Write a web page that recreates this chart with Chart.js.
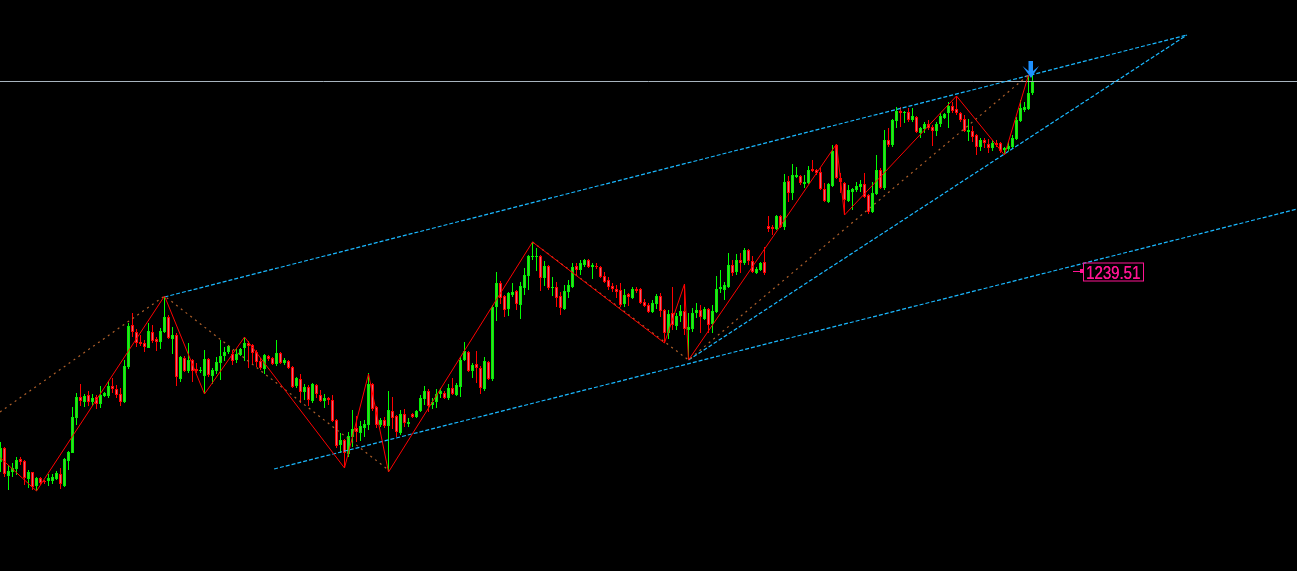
<!DOCTYPE html>
<html>
<head>
<meta charset="utf-8">
<title>XAUUSD swings</title>
<script src="https://cdn.jsdelivr.net/npm/chart.js@4.4.1/dist/chart.umd.min.js"></script>
<style>
  html, body { margin: 0; padding: 0; background: #000; overflow: hidden; }
  #wrap { width: 1297px; height: 571px; }
</style>
</head>
<body>
<div id="wrap"><canvas id="chart-main" width="1297" height="571"></canvas></div>
<script>
/* ── Candles (one per bar, oldest first) ───────────────────────────── */
const OPEN = [
  1049,1063,1035,1039,1042,1052,1050,1032,1039,1025, 1033,1030,1030,1030,1032,1037,1025,1050,1058,1093,
  1114,1109,1116,1109,1114,1107,1115,1115,1125,1122, 1117,1109,1144,1186,1179,1169,1168,1163,1179,1172,
  1169,1179,1194,1172,1176,1132,1153,1140,1151,1142, 1140,1135,1152,1135,1140,1148,1155,1159,1157,1151,
  1156,1163,1168,1166,1159,1150,1142,1155,1153,1147, 1158,1148,1150,1144,1125,1132,1119,1124,1110,1126,
  1116,1110,1113,1111,1091,1066,1071,1057,1074,1083, 1078,1083,1086,1127,1104,1086,1091,1085,1100,1095,
  1078,1097,1087,1097,1094,1100,1112,1120,1106,1109, 1117,1118,1113,1123,1116,1124,1151,1159,1140,1147,
  1143,1122,1149,1132,1204,1228,1215,1202,1216,1220, 1206,1223,1235,1254,1254,1255,1233,1245,1223,1224,
  1215,1202,1219,1224,1245,1241,1246,1251,1244,1245, 1244,1235,1231,1225,1222,1221,1207,1217,1213,1222,
  1222,1209,1206,1199,1207,1215,1201,1178,1198,1185, 1195,1200,1181,1182,1198,1201,1192,1202,1187,1199,
  1222,1221,1224,1246,1239,1251,1248,1261,1250,1238, 1241,1249,1285,1284,1282,1295,1284,1330,1318,1334,
  1335,1327,1328,1342,1341,1339,1322,1309,1325,1366, 1333,1328,1310,1319,1321,1324,1327,1316,1299,1317,
  1341,1323,1371,1366,1390,1400,1398,1399,1391,1394, 1378,1382,1387,1384,1380,1387,1393,1398,1405,1402,
  1398,1392,1379,1380,1376,1364,1371,1367,1363,1368, 1368,1361,1362,1364,1372,1390,1401,1402,1418
];
const HIGH = [
  1069,1064,1046,1048,1054,1054,1051,1041,1039,1034, 1034,1031,1037,1037,1040,1043,1053,1060,1104,1118,
  1127,1117,1120,1117,1116,1125,1119,1130,1133,1126, 1123,1151,1188,1198,1182,1176,1171,1188,1186,1174,
  1183,1215,1196,1184,1178,1155,1155,1168,1152,1148, 1144,1161,1153,1143,1154,1171,1164,1166,1161,1162,
  1163,1174,1170,1167,1161,1153,1157,1156,1154,1171, 1159,1153,1151,1145,1134,1137,1127,1126,1128,1127,
  1121,1117,1114,1116,1092,1078,1072,1079,1101,1095, 1090,1091,1138,1128,1105,1093,1094,1120,1114,1096,
  1101,1102,1093,1098,1101,1116,1125,1122,1113,1122, 1123,1120,1127,1133,1128,1154,1169,1160,1148,1160,
  1145,1154,1150,1206,1239,1230,1216,1219,1228,1221, 1229,1243,1256,1269,1263,1256,1250,1246,1234,1229,
  1219,1226,1231,1248,1248,1251,1252,1252,1248,1248, 1245,1239,1234,1228,1226,1228,1222,1218,1224,1224,
  1223,1212,1208,1211,1217,1218,1202,1201,1224,1198, 1206,1227,1198,1203,1208,1206,1204,1203,1206,1235,
  1241,1229,1258,1251,1257,1258,1263,1262,1255,1244, 1249,1264,1295,1286,1296,1296,1337,1335,1347,1344,
  1336,1336,1345,1351,1342,1343,1328,1328,1366,1367, 1338,1329,1326,1323,1329,1331,1338,1317,1329,1356,
  1343,1381,1383,1392,1404,1404,1400,1403,1403,1395, 1384,1389,1391,1386,1389,1398,1398,1409,1409,1415,
  1399,1396,1392,1385,1377,1373,1373,1372,1371,1371, 1369,1364,1369,1376,1394,1411,1409,1436,1438
];
const LOW = [
  1039,1034,1021,1034,1036,1046,1026,1023,1021,1020, 1026,1027,1025,1027,1031,1022,1024,1041,1058,1086,
  1105,1104,1105,1105,1102,1103,1114,1113,1118,1113, 1105,1108,1142,1174,1164,1165,1159,1163,1168,1160,
  1162,1178,1172,1157,1125,1129,1139,1138,1129,1138, 1138,1117,1134,1127,1137,1131,1150,1157,1146,1148,
  1155,1150,1143,1146,1144,1141,1137,1150,1146,1145, 1147,1146,1142,1123,1123,1108,1111,1105,1108,1113,
  1109,1103,1106,1089,1063,1058,1043,1054,1064,1069, 1070,1074,1081,1100,1083,1084,1083,1039,1082,1074,
  1076,1084,1084,1093,1093,1099,1106,1099,1102,1103, 1113,1112,1111,1116,1115,1114,1150,1139,1133,1128,
  1117,1120,1131,1130,1190,1207,1194,1195,1214,1201, 1192,1216,1221,1251,1240,1220,1225,1221,1215,1204,
  1196,1201,1213,1223,1236,1236,1244,1243,1232,1242, 1233,1228,1221,1219,1213,1204,1204,1205,1212,1218,
  1207,1204,1198,1198,1202,1194,1168,1172,1181,1181, 1189,1176,1151,1179,1193,1178,1191,1178,1178,1198,
  1218,1211,1223,1235,1236,1238,1246,1246,1238,1237, 1240,1236,1279,1276,1281,1283,1281,1309,1311,1333,
  1326,1323,1327,1339,1336,1321,1309,1308,1324,1332, 1318,1296,1309,1301,1319,1319,1313,1297,1298,1316,
  1322,1321,1364,1364,1383,1384,1388,1389,1389,1378, 1373,1378,1381,1365,1375,1384,1392,1383,1398,1396,
  1389,1379,1370,1369,1356,1360,1363,1358,1360,1364, 1358,1356,1360,1363,1371,1389,1399,1401,1416
];
const CLOSE = [
  1063,1037,1040,1043,1051,1049,1033,1039,1024,1033, 1028,1029,1033,1034,1038,1027,1052,1059,1094,1114,
  1110,1115,1109,1113,1107,1116,1118,1125,1122,1116, 1109,1145,1185,1179,1168,1167,1164,1180,1170,1169,
  1180,1194,1173,1176,1134,1154,1140,1151,1140,1140, 1141,1152,1136,1141,1149,1155,1159,1165,1150,1157,
  1162,1168,1165,1158,1149,1143,1156,1152,1147,1158, 1148,1151,1143,1124,1133,1119,1124,1111,1127,1117,
  1110,1113,1111,1090,1065,1071,1058,1075,1082,1079, 1085,1087,1127,1102,1086,1091,1085,1101,1093,1079,
  1097,1088,1089,1094,1100,1113,1120,1105,1109,1117, 1120,1113,1123,1117,1126,1151,1160,1140,1146,1143,
  1123,1150,1132,1204,1228,1213,1201,1218,1219,1207, 1225,1236,1255,1255,1255,1233,1245,1223,1224,1213,
  1203,1220,1226,1244,1241,1248,1251,1244,1246,1244, 1234,1229,1224,1222,1219,1206,1216,1214,1222,1220,
  1208,1205,1199,1208,1215,1200,1178,1197,1186,1195, 1200,1182,1184,1198,1201,1194,1202,1186,1200,1222,
  1224,1226,1246,1238,1251,1248,1261,1250,1239,1242, 1248,1238,1282,1282,1295,1284,1329,1318,1336,1336,
  1328,1329,1341,1340,1338,1322,1310,1327,1360,1333, 1329,1311,1321,1322,1325,1327,1314,1299,1318,1341,
  1323,1371,1366,1391,1400,1398,1399,1391,1395,1379, 1383,1387,1383,1380,1387,1395,1397,1405,1400,1398,
  1391,1380,1381,1374,1364,1371,1368,1363,1368,1366, 1360,1363,1365,1373,1391,1403,1404,1418,1429
];

/* ── Drawn objects (bar index, price) ──────────────────────────────── */
const ZIGZAG_IDX   = [0, 9, 41, 51, 61, 86, 92, 97, 133, 166, 171, 172, 209, 211, 239, 251, 257];
const ZIGZAG_PRICE = [1053, 1020, 1215, 1117, 1174, 1043, 1137, 1039, 1269, 1168, 1227, 1151, 1367, 1296, 1415, 1356, 1436];

const SWING_A_IDX   = [-0.125, 41, 97];
const SWING_A_PRICE = [1099, 1215, 1041];
const SWING_B_IDX   = [133, 172, 257];
const SWING_B_PRICE = [1269, 1151, 1436];

const CHANNEL_TOP_IDX   = [41, 296.6];
const CHANNEL_TOP_PRICE = [1214, 1476];
const CHANNEL_BOT_IDX   = [68.4, 324.2];
const CHANNEL_BOT_PRICE = [1042, 1302];
const TREND_IDX   = [172, 296.6];
const TREND_PRICE = [1151, 1476];

const LEVEL_PRICE = 1429.5;
const LABEL_IDX = 268, LABEL_PRICE = 1239.51, LABEL_TEXT = '1239.51';
const ARROW_IDX = 257.5, ARROW_PRICE = 1433;

/* ── Colours ───────────────────────────────────────────────────────── */
const C = {
  upBody: '#3fd22b', upEdge: '#00f000', upWick: '#00ff00',
  dnBody: '#e2667a', dnEdge: '#ff0000', dnWick: '#ff0000',
  zigzag: '#ff0000', swing: '#b0602a', channel: '#1ab8ff',
  level: '#a8b4be', label: '#ff1493', arrow: '#1e90ff'
};

function pts(xs, ys) { return xs.map((x, i) => ({ x, y: ys[i] })); }

function lineDs(data, color, dash, width) {
  return {
    type: 'line', data, borderColor: color, borderWidth: width || 1, borderDash: dash || [],
    pointRadius: 0, fill: false, tension: 0, borderCapStyle: 'butt'
  };
}

/* ── Label + arrow overlay ─────────────────────────────────────────── */
const overlay = {
  id: 'overlay',
  afterDatasetsDraw(chart) {
    const { ctx, scales: { x, y } } = chart;
    ctx.save();

    // price label
    const lx = Math.round(x.getPixelForValue(LABEL_IDX));
    const ly = Math.round(y.getPixelForValue(LABEL_PRICE)) + 0.5;
    ctx.strokeStyle = C.label; ctx.fillStyle = C.label; ctx.lineWidth = 1;
    ctx.beginPath(); ctx.moveTo(lx, ly); ctx.lineTo(lx + 8, ly); ctx.stroke();
    ctx.fillRect(lx + 7, ly - 2.5, 3, 4);
    ctx.strokeRect(lx + 10.5, ly - 8.5, 60, 18);
    ctx.font = '15px "Liberation Sans", Arial, sans-serif';
    ctx.textBaseline = 'alphabetic';
    ctx.save();
    ctx.translate(lx + 13, ly + 7);
    ctx.scale(1, 1.2);
    ctx.fillText(LABEL_TEXT, 0, 0);
    ctx.fillText(LABEL_TEXT, 0.3, 0);
    ctx.restore();

    // down arrow
    const ax = x.getPixelForValue(ARROW_IDX);
    const tip = y.getPixelForValue(ARROW_PRICE);
    ctx.fillStyle = C.arrow;
    ctx.beginPath();
    ctx.moveTo(ax - 2, tip - 17);
    ctx.lineTo(ax + 2.5, tip - 17);
    ctx.lineTo(ax + 2.5, tip - 7);
    ctx.lineTo(ax + 8.5, tip - 12);
    ctx.lineTo(ax + 0.5, tip);
    ctx.lineTo(ax - 8, tip - 12);
    ctx.lineTo(ax - 2, tip - 7);
    ctx.closePath();
    ctx.fill();

    ctx.restore();
  }
};

/* ── Chart ─────────────────────────────────────────────────────────── */
const idx = OPEN.map((_, i) => i);
const up = idx.map(i => CLOSE[i] >= OPEN[i]);

new Chart(document.getElementById('chart-main'), {
  type: 'bar',
  data: {
    datasets: [
      lineDs(pts(ZIGZAG_IDX, ZIGZAG_PRICE), C.zigzag),
      lineDs(pts(SWING_A_IDX, SWING_A_PRICE), C.swing, [2, 4], 1.2),
      lineDs(pts(SWING_B_IDX, SWING_B_PRICE), C.swing, [2, 4], 1.2),
      lineDs(pts(CHANNEL_TOP_IDX, CHANNEL_TOP_PRICE), C.channel, [4, 2], 1.2),
      lineDs(pts(CHANNEL_BOT_IDX, CHANNEL_BOT_PRICE), C.channel, [4, 2], 1.2),
      lineDs(pts(TREND_IDX, TREND_PRICE), C.channel, [4, 2], 1.2),
      lineDs([{ x: -1, y: LEVEL_PRICE }, { x: 326, y: LEVEL_PRICE }], C.level),
      {
        label: 'body',
        data: idx.map(i => ({ x: i, y: [OPEN[i], CLOSE[i]] })),
        backgroundColor: up.map(u => u ? C.upBody : C.dnBody),
        borderColor: up.map(u => u ? C.upEdge : C.dnEdge),
        borderWidth: 1, borderSkipped: false, barThickness: 3,
        grouped: false, inflateAmount: 0
      },
      {
        label: 'wick',
        data: idx.map(i => ({ x: i, y: [LOW[i], HIGH[i]] })),
        backgroundColor: up.map(u => u ? C.upWick : C.dnWick),
        borderWidth: 0, barThickness: 1, grouped: false, inflateAmount: 0
      }
    ]
  },
  options: {
    responsive: false,
    animation: false,
    events: [],
    layout: { padding: 0 },
    plugins: { legend: { display: false }, tooltip: { enabled: false } },
    scales: {
      x: { type: 'linear', min: -0.125, max: 324.125, display: false, offset: false },
      y: { min: 940, max: 1511, display: false }
    }
  },
  plugins: [overlay]
});
</script>
</body>
</html>
